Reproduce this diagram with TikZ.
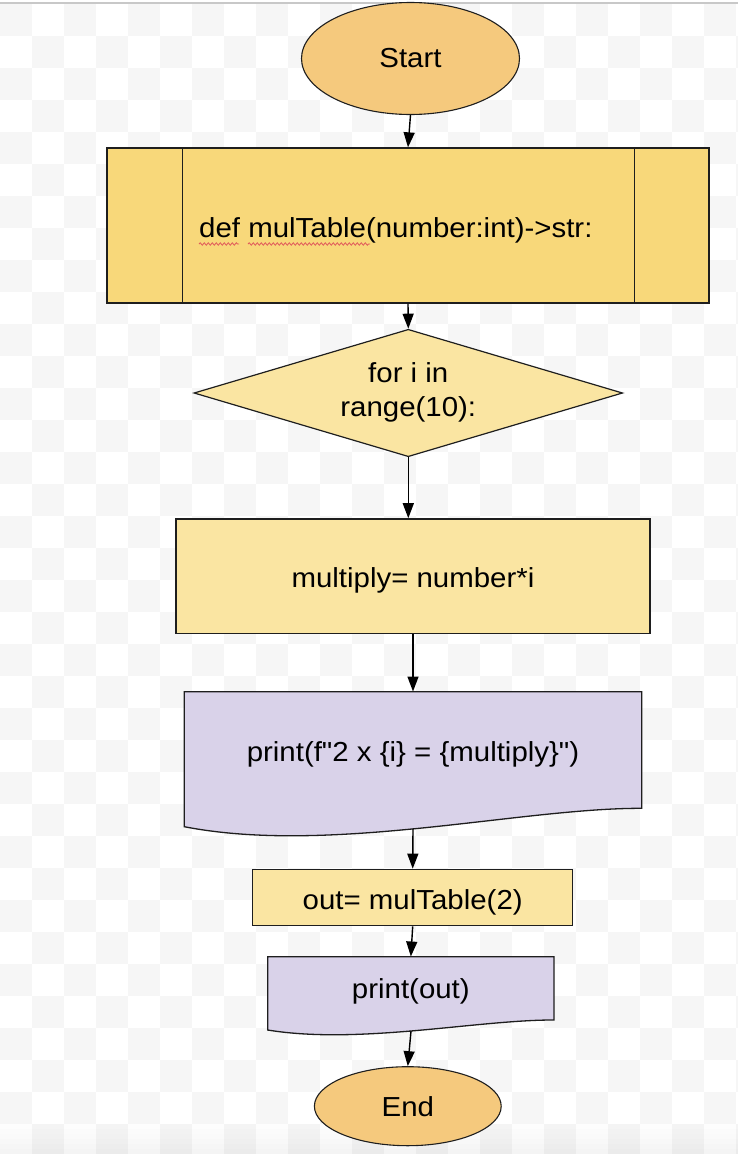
\documentclass[tikz,border=0pt]{standalone}
\usepackage{fontspec}
\setmainfont{Liberation Sans}[FakeStretch=1.07]
\newfontfamily\plainsans{Liberation Sans}[FakeStretch=1.07]
\usetikzlibrary{shapes.geometric,arrows.meta,decorations.pathmorphing}
\pgfdeclarelayer{bg}
\pgfsetlayers{bg,main}
\definecolor{termfill}{HTML}{F5C97D}
\definecolor{predfill}{HTML}{F8D87A}
\definecolor{procfill}{HTML}{FAE5A2}
\definecolor{docfill}{HTML}{D9D2E9}
\definecolor{checker}{HTML}{F6F6F6}
\definecolor{edge}{HTML}{1E1E1E}
\definecolor{topline}{HTML}{C8C8C8}
\definecolor{spell}{HTML}{E05A5A}
\begin{document}
\begin{tikzpicture}[x=1pt,y=-1pt,
  every node/.style={font=\plainsans\fontsize{27.5}{34}\selectfont, text=black, inner sep=0pt},
  term/.style={ellipse, draw=edge, line width=1.1pt, fill=termfill},
  predbox/.style={rectangle, draw=edge, line width=1.3pt, fill=predfill},
  procbox/.style={rectangle, draw=edge, line width=1.3pt, fill=procfill},
  decide/.style={diamond, aspect=3.365, draw=edge, line width=1.2pt, fill=procfill, align=center},
  docbox/.style={rectangle, draw=none},
  docshape/.style={draw=edge, line width=1.3pt, fill=docfill},
  flow/.style={draw=black, line width=1.4pt, -{Triangle[length=15pt,width=11pt]}},
  wavy/.style={draw=spell, line width=0.8pt, decorate, decoration={snake, segment length=4pt, amplitude=1.2pt}},
]
\useasboundingbox (0,0) rectangle (738,1154);

% nodes
\node[term, minimum width=218pt, minimum height=112pt] (start) at (410.5,58.5) {Start};
\node[predbox, minimum width=602pt, minimum height=155pt] (def) at (408,225.5) {};
\draw[edge, line width=1.3pt] ([xshift=76pt]def.north west) -- ([xshift=76pt]def.south west);
\draw[edge, line width=1.3pt] ([xshift=-75pt]def.north east) -- ([xshift=-75pt]def.south east);
\node[anchor=base west] (deftext) at (199,237.3) {def mulTable(number:int)->str:};
\draw[wavy] (199,244) -- (239,244);
\draw[wavy] (248,244) -- (370,244);

\node[decide, minimum width=428.7pt, minimum height=127.4pt] (dia) at (408.3,393) {\raisebox{-4pt}{\begin{tabular}{@{}c@{}}for i in\\range(10):\end{tabular}}};
\node[procbox, minimum width=474pt, minimum height=114.3pt, text height=28pt, text depth=5.8pt] (mul) at (413,576) {multiply= number*i};
\node[docbox, minimum width=457.4pt, minimum height=125.6pt] (prt) at (413,754.5) {print(f"2 x \{i\} = \{multiply\}")};
\coordinate (prtbot) at (413,828.5);
\node[procbox, minimum width=320pt, minimum height=56.4pt, text height=29.4pt, text depth=5.8pt] (out) at (412.7,897.5) {out= mulTable(2)};
\node[docbox, minimum width=286.3pt, minimum height=70pt] (pout) at (410.85,991.7) {print(out)};
\coordinate (poutbot) at (411,1031);
\node[term, minimum width=186.8pt, minimum height=79pt] (end) at (407.8,1106.2) {End};

% connectors
\draw[flow] (start.south) -- (def.north);
\draw[flow] (def.south) -- (dia.north);
\draw[flow] (dia.south) -- (dia.south |- mul.north);
\draw[flow] (mul.south) -- (prt.north);
\draw[flow] (prtbot) -- (out.north);
\draw[flow] (out.south) -- (pout.north);
\draw[flow] (poutbot) -- (end.north);

% background and document shapes
\begin{pgfonlayer}{bg}
  \fill[white] (0,0) rectangle (738,1154);
  \begin{scope}
    \clip (0,3.5) rectangle (738,1154);
    \foreach \r in {0,...,35}{
      \foreach \c in {0,...,23}{
        \pgfmathparse{int(mod(\r+\c,2))}
        \ifnum\pgfmathresult=0
          \fill[checker] (\c*32,3.5+\r*32) rectangle ++(32,32);
        \fi
      }
    }
  \end{scope}
  \foreach \i in {0,...,5}{
    \pgfmathsetmacro\op{0.007*(\i+1)}
    \fill[black,opacity=\op] (0,1124+\i*5) rectangle (738,1129+\i*5);
  }
  \draw[topline, line width=1.6pt] (0,2.7) -- (738,2.7);
  \filldraw[docshape] (184.3,691.7) -- (641.7,691.7) -- (641.7,808.3)
     .. controls (520,808) and (330,855) .. (184.3,826.7) -- cycle;
  \filldraw[docshape] (267.7,956.7) -- (554,956.7) -- (554,1020)
     .. controls (477.8,1019.7) and (359,1045) .. (267.7,1030) -- cycle;
\end{pgfonlayer}
\end{tikzpicture}
\end{document}
